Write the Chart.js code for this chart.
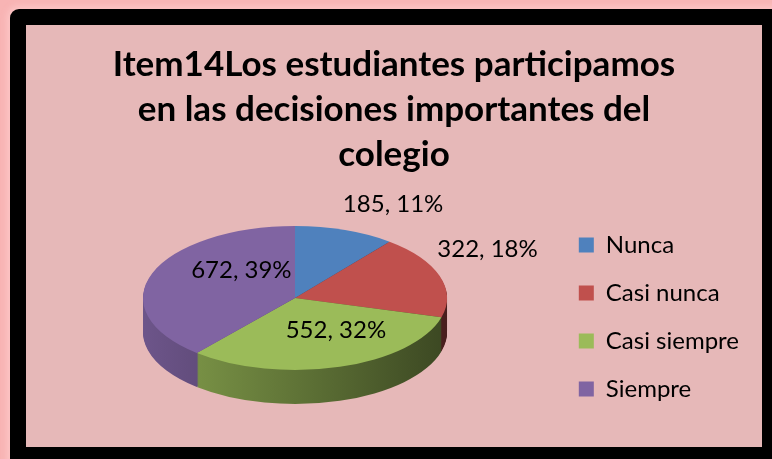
<!DOCTYPE html>
<html><head><meta charset="utf-8">
<script src="https://cdn.jsdelivr.net/npm/chart.js@4.4.1/dist/chart.umd.min.js"></script>
<style>
html,body{margin:0;padding:0;}
body{width:772px;height:459px;overflow:hidden;position:relative;background:#F8B4B4;}
#frame{position:absolute;left:10px;top:9px;width:790px;height:480px;background:#000;border-radius:9px 0 0 0;box-shadow:0 0 6px 3px rgba(255,205,205,0.7);}
#panel{position:absolute;left:26px;top:25px;width:736px;height:422px;background:#E6B8B8;}
canvas{display:block;}
</style></head><body>
<div id="frame"></div>
<div id="panel"><canvas id="c" width="736" height="422"></canvas></div>
<script>
const categories = ['Nunca', 'Casi nunca', 'Casi siempre', 'Siempre'];
const counts = [185, 322, 552, 672];
const percentLabels = ['11%', '18%', '32%', '39%'];
const titleLines = ['Item14Los estudiantes participamos', 'en las decisiones importantes del', 'colegio'];
const sliceColors = ['#4F81BD', '#C0504D', '#9BBB59', '#8064A2'];

function shade(hex, k) {
  const n = parseInt(hex.slice(1), 16);
  const r = Math.round(((n >> 16) & 255) * k), g = Math.round(((n >> 8) & 255) * k), b = Math.round((n & 255) * k);
  return 'rgb(' + r + ',' + g + ',' + b + ')';
}

const pie3d = {
  id: 'pie3d',
  beforeDatasetsDraw(chart, args, o) {
    const ctx = chart.ctx;
    const arcs = chart.getDatasetMeta(0).data;
    const a0 = arcs[0];
    const R = a0.outerRadius, ax = a0.x, ay = a0.y;
    const sx = o.rx / R, sy = o.ry / R;
    const sideFills = arcs.map((arc, i) => {
      const g = ctx.createLinearGradient(ax - R, 0, ax + R, 0);
      g.addColorStop(0, shade(sliceColors[i], 0.85));
      g.addColorStop(0.5, shade(sliceColors[i], 0.62));
      g.addColorStop(1, shade(sliceColors[i], 0.38));
      return g;
    });
    for (let d = o.depth; d >= 1; d--) {
      ctx.save();
      ctx.translate(o.cx, o.cy + d);
      ctx.scale(sx, sy);
      ctx.translate(-ax, -ay);
      arcs.forEach((arc, i) => {
        const tmp = Object.create(arc);
        tmp.options = Object.assign({}, arc.options, {backgroundColor: sideFills[i], borderWidth: 0});
        Chart.ArcElement.prototype.draw.call(tmp, ctx);
      });
      ctx.restore();
    }
    ctx.save();
    ctx.translate(o.cx, o.cy);
    ctx.scale(sx, sy);
    ctx.translate(-ax, -ay);
  },
  afterDatasetsDraw(chart, args, o) {
    const ctx = chart.ctx;
    ctx.restore();
    const arcs = chart.getDatasetMeta(0).data;
    ctx.save();
    ctx.font = '24px Lato';
    ctx.fillStyle = '#000';
    ctx.textAlign = 'center';
    ctx.textBaseline = 'middle';
    arcs.forEach((arc, i) => {
      const mid = (arc.startAngle + arc.endAngle) / 2;
      const p = o.labels[i];
      const x = o.cx + o.rx * p.f * Math.cos(mid) + p.dx;
      const y = o.cy + o.ry * p.f * Math.sin(mid) + p.dy;
      ctx.fillText(counts[i] + ', ' + percentLabels[i], x, y);
    });
    ctx.restore();
  }
};

function build() {
  new Chart(document.getElementById('c'), {
    type: 'pie',
    data: {
      labels: categories,
      datasets: [{data: counts, backgroundColor: sliceColors, borderWidth: 0, clip: false}]
    },
    options: {
      responsive: false,
      animation: false,
      events: [],
      layout: {padding: {left: 13, right: 13}},
      plugins: {
        title: {
          display: true, text: titleLines, color: '#000',
          font: {family: 'Lato', size: 35, weight: 'bold', lineHeight: 45 / 35},
          padding: {top: 17, bottom: 10}
        },
        legend: {
          position: 'right',
          fullSize: false,
          labels: {color: '#000', font: {family: 'Lato', size: 24}, boxWidth: 15, boxHeight: 15, padding: 24}
        },
        tooltip: {enabled: false},
        pie3d: {
          cx: 269, cy: 273, rx: 152, ry: 72, depth: 34,
          labels: [{f: 1, dx: 48, dy: -26}, {f: 1, dx: 48, dy: -26}, {f: 0.6, dx: 14, dy: -9}, {f: 0.6, dx: 32, dy: -13}]
        }
      }
    },
    plugins: [pie3d]
  });
}
Promise.all([document.fonts.load('bold 35px Lato'), document.fonts.load('24px Lato')]).then(build, build);
</script>
</body></html>
